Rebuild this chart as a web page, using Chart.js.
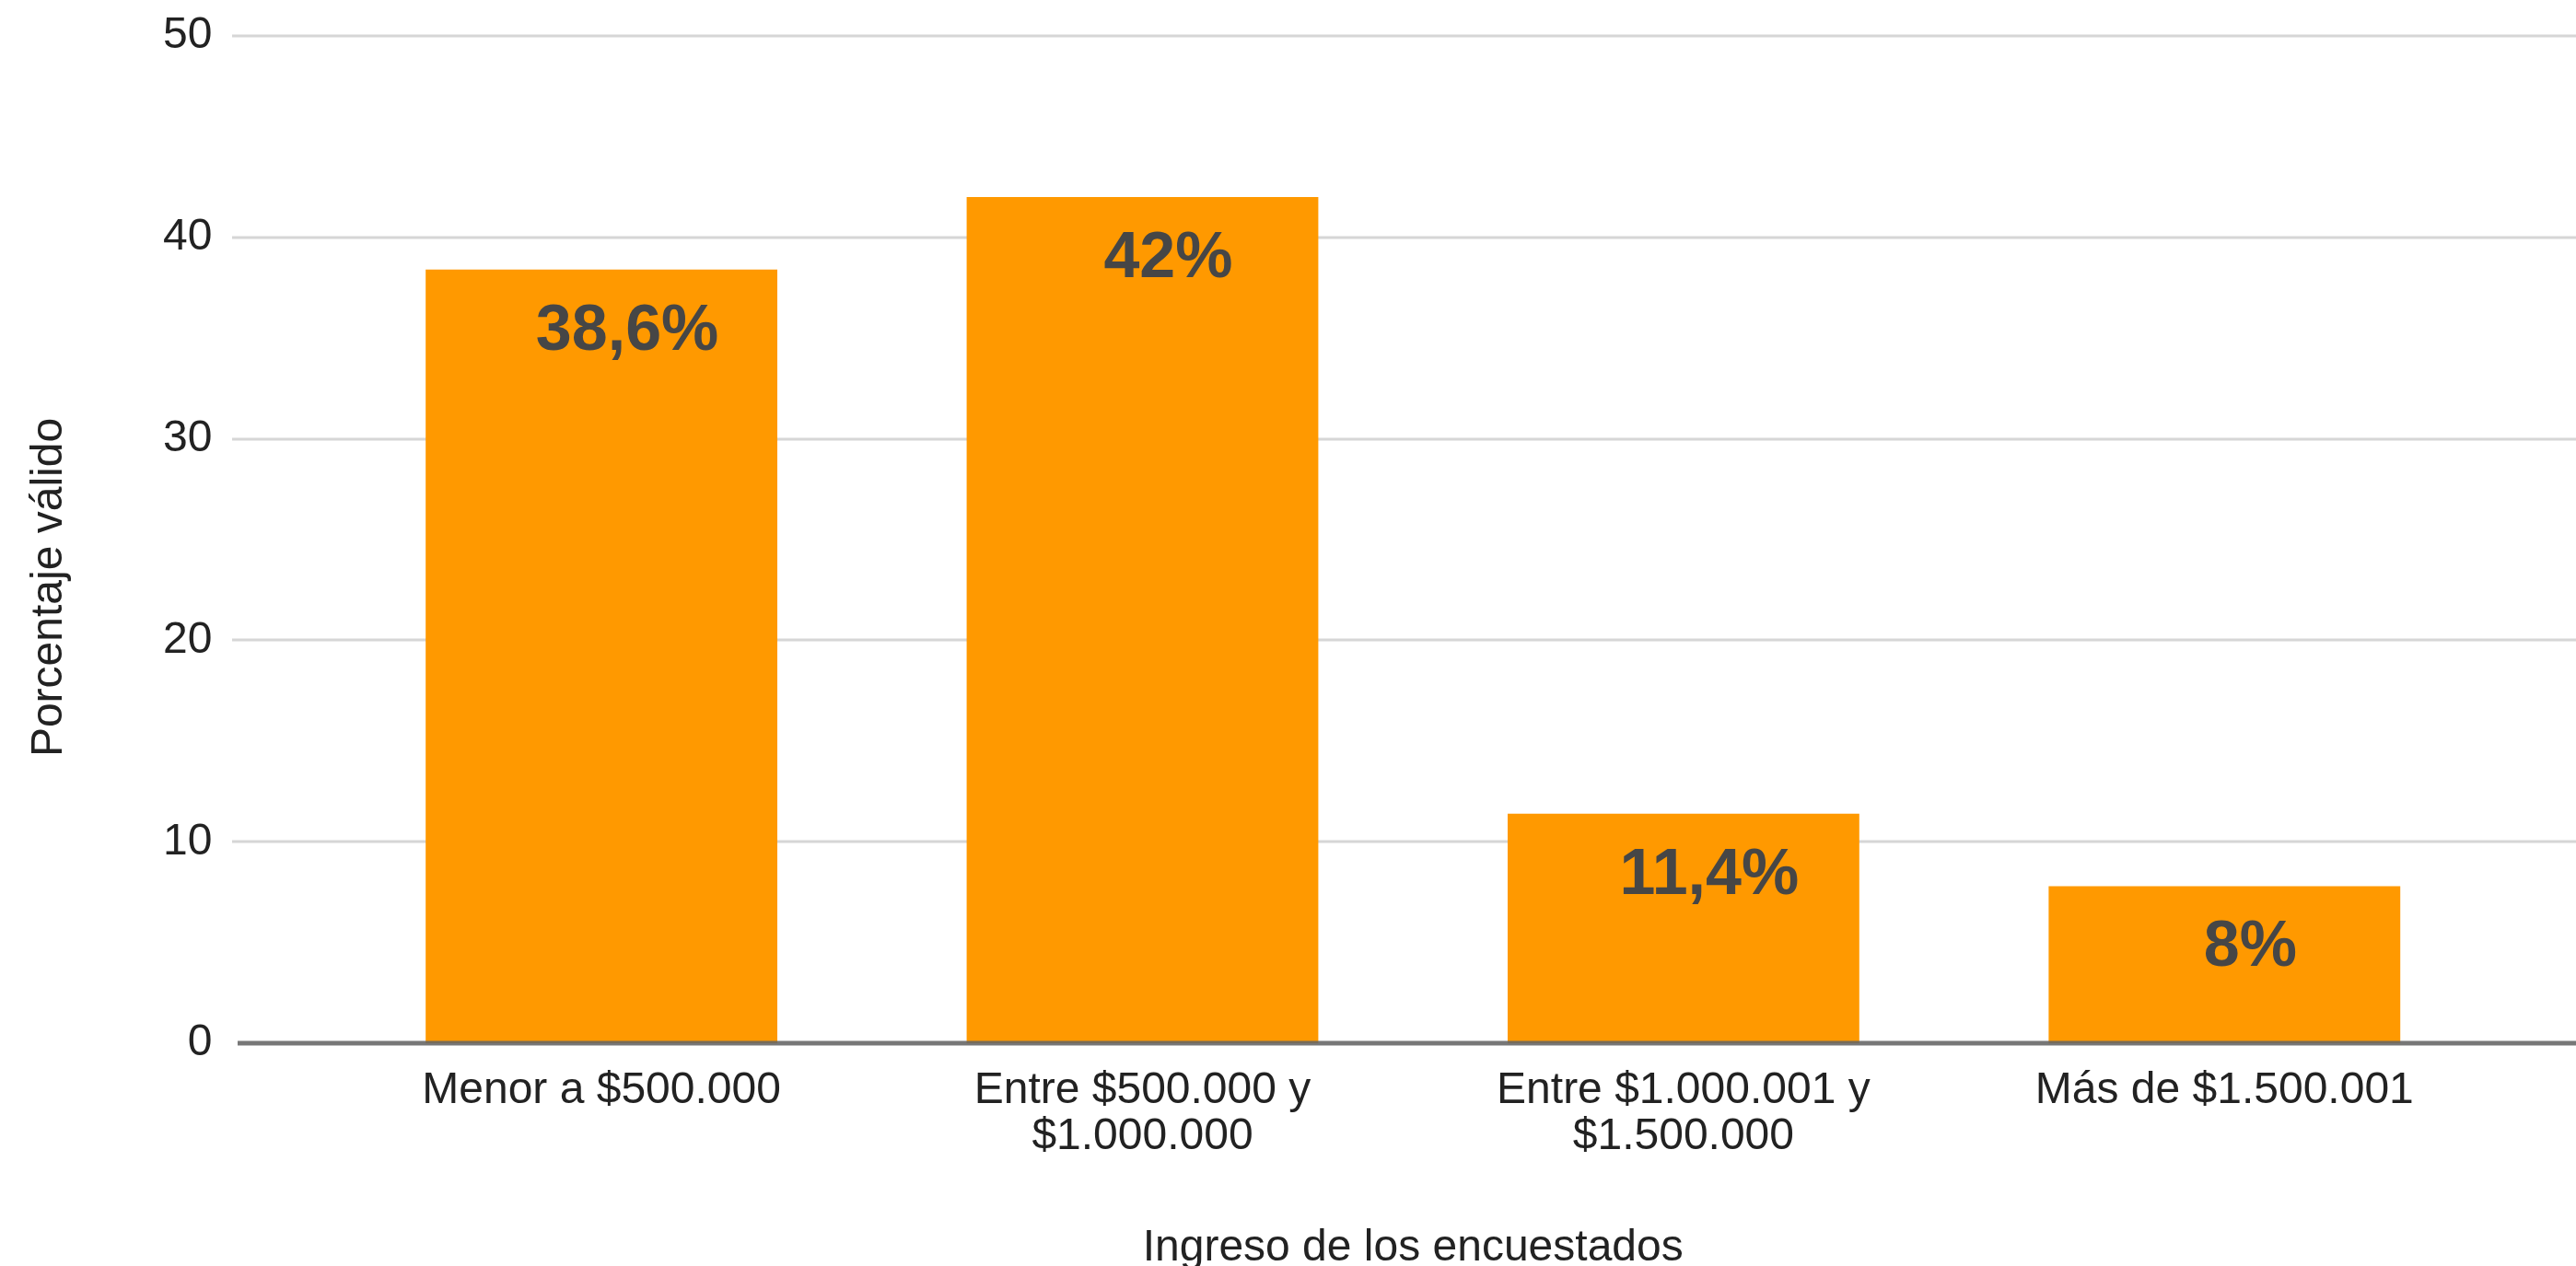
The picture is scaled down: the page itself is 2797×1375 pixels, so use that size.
<!DOCTYPE html>
<html>
<head>
<meta charset="utf-8">
<title>Ingreso de los encuestados</title>
<script src="https://cdn.jsdelivr.net/npm/chart.js@4.4.1/dist/chart.umd.min.js"></script>
<style>
    html, body { margin: 0; padding: 0; background: #fff; overflow: hidden; }
    #chartIngreso { display: block; }
</style>
</head>
<body>
<canvas id="chartIngreso" width="2797" height="1375"></canvas>
<script>

const categories = [
    'Menor a $500.000',
    ['Entre $500.000 y', '$1.000.000'],
    ['Entre $1.000.001 y', '$1.500.000'],
    'Más de $1.500.001'
];
const porcentajes = [38.4, 42, 11.4, 7.8];
const valueLabels = ['38,6%', '42%', '11,4%', '8%'];
const yTicks = [0, 10, 20, 30, 40, 50];

const FONT = "'Liberation Sans', Arial, sans-serif";

// gridlines run wider than the bar area, like the original
const gridLines = {
    id: 'gridLines',
    beforeDatasetsDraw(chart) {
        const { ctx, scales: { y } } = chart;
        ctx.save();
        y.ticks.forEach(tick => {
            if (tick.value === 0) return;
            const py = Math.round(y.getPixelForValue(tick.value));
            ctx.strokeStyle = '#d6d6d6';
            ctx.lineWidth = 3;
            ctx.beginPath();
            ctx.moveTo(252, py);
            ctx.lineTo(chart.width, py);
            ctx.stroke();
        });
        ctx.restore();
    },
    afterDatasetsDraw(chart) {
        const { ctx, scales: { y } } = chart;
        const py = Math.round(y.getPixelForValue(0));
        ctx.save();
        ctx.strokeStyle = 'rgba(100, 100, 100, 0.88)';
        ctx.lineWidth = 5;
        ctx.beginPath();
        ctx.moveTo(258, py);
        ctx.lineTo(chart.width, py);
        ctx.stroke();
        ctx.restore();
    }
};

const barLabels = {
    id: 'barLabels',
    afterDatasetsDraw(chart) {
        const { ctx } = chart;
        ctx.save();
        ctx.font = 'bold 70px ' + FONT;
        ctx.fillStyle = '#464646';
        ctx.textAlign = 'center';
        ctx.textBaseline = 'alphabetic';
        chart.getDatasetMeta(0).data.forEach((bar, i) => {
            ctx.fillText(valueLabels[i], bar.x + 28, bar.y + 87);
        });
        ctx.restore();
    }
};

const yTitle = {
    id: 'yTitle',
    afterDraw(chart) {
        const { ctx } = chart;
        ctx.save();
        ctx.translate(54, 638);
        ctx.rotate(-Math.PI / 2);
        ctx.font = '48px ' + FONT;
        ctx.fillStyle = '#222';
        ctx.textAlign = 'center';
        ctx.textBaseline = 'middle';
        ctx.fillText('Porcentaje válido', 0, 0);
        ctx.restore();
    }
};

new Chart(document.getElementById('chartIngreso'), {
    type: 'bar',
    data: {
        labels: categories,
        datasets: [
            {
                label: 'Porcentaje válido',
                data: porcentajes,
                backgroundColor: '#ff9900',
                borderWidth: 0,
                barPercentage: 0.65,
                categoryPercentage: 1.0
            }
        ]
    },
    options: {
        responsive: false,
        animation: false,
        devicePixelRatio: 1,
        layout: {
            padding: { left: 177, right: 88, top: 39, bottom: 0 }
        },
        plugins: {
            legend: { display: false },
            tooltip: { enabled: false }
        },
        scales: {
            x: {
                grid: { display: false, drawTicks: false },
                border: { display: false },
                ticks: {
                    color: '#222',
                    padding: 27,
                    maxRotation: 0,
                    autoSkip: false,
                    font: { family: FONT, size: 48, lineHeight: 1.04 }
                },
                title: {
                    display: true,
                    text: 'Ingreso de los encuestados',
                    color: '#222',
                    padding: { top: 49.6, bottom: 0 },
                    font: { family: FONT, size: 48, lineHeight: 0.8 }
                }
            },
            y: {
                min: 0,
                max: 50,
                afterBuildTicks: axis => {
                    axis.ticks = yTicks.map(v => ({ value: v }));
                },
                grid: { display: false, drawTicks: true, tickLength: 129 },
                border: { display: false },
                ticks: {
                    color: '#222',
                    padding: 0,
                    font: { family: FONT, size: 48 }
                }
            }
        }
    },
    plugins: [gridLines, barLabels, yTitle]
});

</script>
</body>
</html>
